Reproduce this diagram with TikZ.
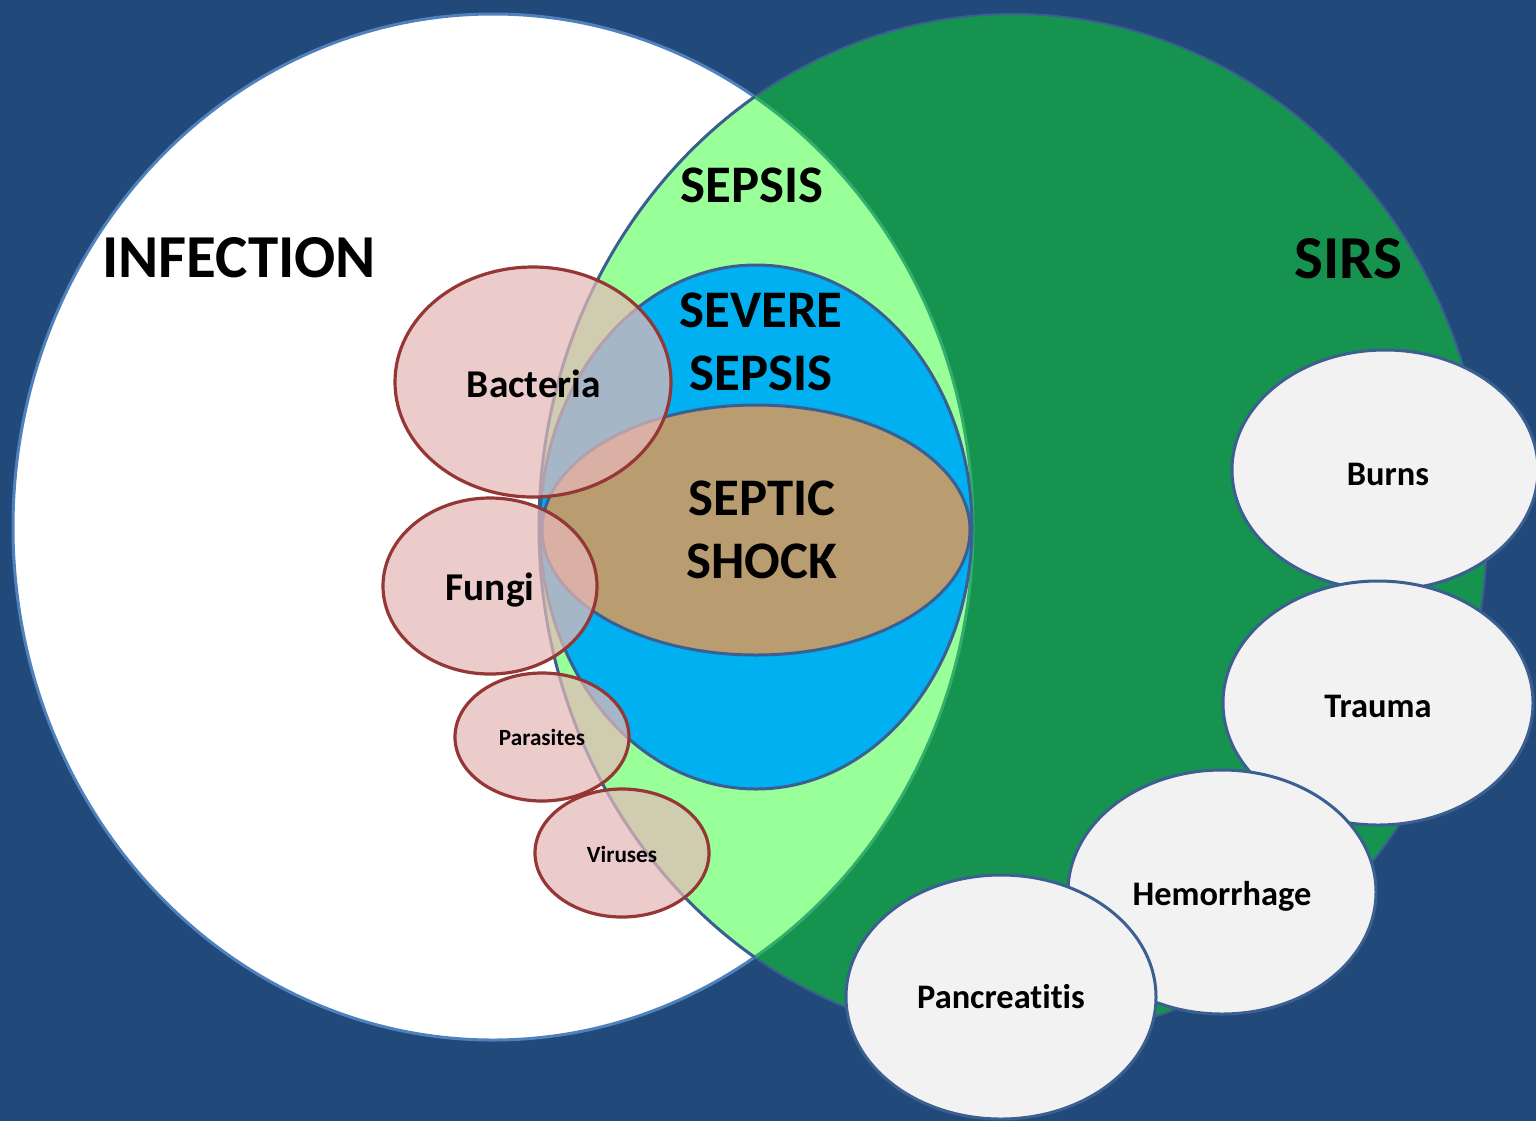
\documentclass[tikz,border=0pt]{standalone}
\usepackage{fontspec}
\setmainfont{Carlito}[Ligatures=CommonOff]
\definecolor{bgblue}{HTML}{214A7B}
\definecolor{infstroke}{HTML}{4F81BD}
\definecolor{sirsgreen}{HTML}{16934F}
\definecolor{lensgreen}{HTML}{99FF99}
\definecolor{lensedge}{HTML}{33AE6C}
\definecolor{edgeblue}{HTML}{3C5F91}
\definecolor{sevblue}{HTML}{00B0F0}
\definecolor{shocktan}{HTML}{B99C6F}
\definecolor{pinkfill}{HTML}{E6B9B8}
\definecolor{pinkedge}{HTML}{953735}
\definecolor{grayfill}{HTML}{F2F2F2}
\begin{document}
\begin{tikzpicture}[x=0.5pt,y=-0.5pt,
  lbl/.style={anchor=base, inner sep=0pt, text=black},
  huge/.style={lbl, font=\fontsize{30.5}{36}\selectfont\bfseries},
  mid/.style={lbl, font=\fontsize{26.4}{31}\selectfont\bfseries},
  germ/.style={lbl, font=\fontsize{19.7}{24}\selectfont\bfseries},
  small/.style={lbl, font=\fontsize{11.6}{14}\selectfont\bfseries},
  cause/.style={lbl, font=\fontsize{17.2}{21}\selectfont\bfseries},
  pinkblob/.style={fill=pinkfill, fill opacity=0.72, draw=pinkedge, line width=1.6pt},
  grayblob/.style={fill=grayfill, draw=edgeblue, line width=1.5pt}]
\useasboundingbox (0,0) rectangle (1536,1121);
\fill[bgblue] (0,0) rectangle (1536,1121);
% INFECTION
\filldraw[fill=white, draw=infstroke, line width=1.5pt] (493,527) ellipse [x radius=480, y radius=513];
% SIRS
\filldraw[fill=sirsgreen, draw=edgeblue, line width=1pt] (1013,527) ellipse [x radius=474, y radius=513];
% lens (SEPSIS)
\begin{scope}
  \clip (493,527) ellipse [x radius=480, y radius=513];
  \fill[lensgreen] (1013,527) ellipse [x radius=474, y radius=513];
\end{scope}
\begin{scope}
  \clip (1013,527) ellipse [x radius=474, y radius=513];
  \draw[lensedge, line width=1.5pt] (493,527) ellipse [x radius=480, y radius=513];
\end{scope}
\begin{scope}
  \clip (493,527) ellipse [x radius=480, y radius=513];
  \draw[edgeblue, line width=1.5pt] (1013,527) ellipse [x radius=474, y radius=513];
\end{scope}
% SEVERE SEPSIS
\filldraw[fill=sevblue, draw=edgeblue, line width=1.5pt] (756,527) ellipse [x radius=216, y radius=262];
% SEPTIC SHOCK
\filldraw[fill=shocktan, draw=edgeblue, line width=1.5pt] (756,530) ellipse [x radius=214, y radius=125];
% germs
\draw[pinkblob] (533,382) ellipse [x radius=138, y radius=115];
\draw[pinkblob] (490,586) ellipse [x radius=107, y radius=88];
\draw[pinkblob] (542,737) ellipse [x radius=87, y radius=64];
\draw[pinkblob] (622,853) ellipse [x radius=87, y radius=64];
% other causes
\draw[grayblob] (1385,470) ellipse [x radius=153, y radius=120];
\draw[grayblob] (1378,703) ellipse [x radius=155, y radius=122];
\draw[grayblob] (1222,892) ellipse [x radius=154, y radius=122];
\draw[grayblob] (1001,997) ellipse [x radius=155, y radius=122];
% labels
\node[huge] (infection) at (239,277) {INFECTION};
\node[huge] (sirs) at (1348,278) {SIRS};
\node[mid] (sepsis) at (752,202) {SEPSIS};
\node[mid] (severe1) at (761,327) {SEVERE};
\node[mid] (severe2) at (761,390) {SEPSIS};
\node[mid] (septic1) at (762,515) {SEPTIC};
\node[mid] (septic2) at (762,578) {SHOCK};
\node[germ] (bacteria) at (534,397) {Bacteria};
\node[germ] (fungi) at (490,600) {Fungi};
\node[small] (parasites) at (542,745) {Parasites};
\node[small] (viruses) at (622,862) {Viruses};
\node[cause] (burns) at (1388,485) {Burns};
\node[cause] (trauma) at (1378,717) {Trauma};
\node[cause] (hemorrhage) at (1222,905) {Hemorrhage};
\node[cause] (pancreatitis) at (1001,1008) {Pancreatitis};
\end{tikzpicture}
\end{document}
